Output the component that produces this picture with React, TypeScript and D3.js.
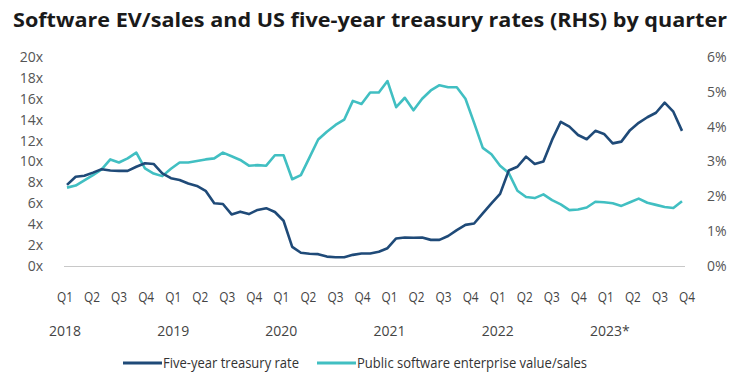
import React from "react";
import * as d3 from "d3";

const title = "Software EV/sales and US five-year treasury rates (RHS) by quarter";
const quarters = ["Q1", "Q2", "Q3", "Q4"];
const years = ["2018", "2019", "2020", "2021", "2022", "2023*"];
const leftTicks = [0, 2, 4, 6, 8, 10, 12, 14, 16, 18, 20];
const rightTicks = [0, 1, 2, 3, 4, 5, 6];

// Monthly values, Jan 2018 - Dec 2023
const evSales = [
  7.5, 7.7, 8.2, 8.7, 9.25, 10.2, 9.9, 10.3, 10.85, 9.35, 8.85, 8.6,
  9.3, 9.9, 9.9, 10.05, 10.2, 10.3, 10.85, 10.5, 10.15, 9.6, 9.65, 9.6,
  10.6, 10.6, 8.3, 8.7, 10.4, 12.1, 12.85, 13.5, 14.0, 15.8, 15.5, 16.6,
  16.6, 17.7, 15.2, 16.1, 14.9, 16.0, 16.8, 17.3, 17.1, 17.1, 16.0, 13.7,
  11.3, 10.7, 9.6, 8.9, 7.2, 6.6, 6.5, 6.85, 6.3, 5.9, 5.35, 5.4,
  5.6, 6.15, 6.1, 6.0, 5.75, 6.1, 6.45, 6.05, 5.85, 5.65, 5.55, 6.2,
];
const treasury = [
  2.33, 2.56, 2.59, 2.68, 2.78, 2.74, 2.73, 2.73, 2.85, 2.95, 2.93, 2.66,
  2.52, 2.47, 2.37, 2.3, 2.16, 1.8, 1.78, 1.48, 1.56, 1.49, 1.61, 1.66,
  1.55, 1.3, 0.55, 0.38, 0.35, 0.34, 0.27, 0.25, 0.25, 0.32, 0.36, 0.36,
  0.41, 0.51, 0.79, 0.82, 0.81, 0.82, 0.75, 0.75, 0.86, 1.03, 1.18, 1.22,
  1.51, 1.8, 2.07, 2.74, 2.85, 3.14, 2.93, 3.0, 3.62, 4.14, 4.0, 3.76,
  3.64, 3.88, 3.79, 3.52, 3.57, 3.9, 4.11, 4.27, 4.4, 4.69, 4.43, 3.88,
];
const seriesNames = ["Five-year treasury rate", "Public software enterprise value/sales"];

const NAVY = "#1f4a78";
const TEAL = "#41bfc2";
const FONT = "'Open Sans', 'Noto Sans', sans-serif";

export default function App() {
  const W = 755, H = 391;
  const x = d3.scaleLinear().domain([0, evSales.length - 1]).range([67, 682]);
  const yL = d3.scaleLinear().domain([0, 20]).range([266, 57]);
  const yR = d3.scaleLinear().domain([0, 6]).range([266, 57]);
  const xq = d3.scaleLinear().domain([0, 23]).range([65, 687]);

  const lineEv = d3.line<number>().x((_, i) => x(i)).y((d) => yL(d));
  const lineRate = d3.line<number>().x((_, i) => x(i)).y((d) => yR(d));

  const qLabels: { t: string; i: number }[] = [];
  for (let i = 0; i < years.length * 4; i++) qLabels.push({ t: quarters[i % 4], i });

  return (
    <svg width={W} height={H} style={{ position: "absolute", left: 0, top: 0, background: "#fff" }} fontFamily={FONT}>
      <rect width={W} height={H} fill="#fff" />
      <text x={13} y={27} fontSize={20} fontWeight={700} fill="#1a1a1a" textLength={714} lengthAdjust="spacingAndGlyphs">
        {title}
      </text>
      {leftTicks.map((t) => (
        <text key={"l" + t} x={43} y={yL(t)} dy="0.35em" textAnchor="end" fontSize={14} fill="#555">
          {t + "x"}
        </text>
      ))}
      {rightTicks.map((t) => (
        <text key={"r" + t} x={707} y={yR(t)} dy="0.35em" textAnchor="start" fontSize={14} fill="#555">
          {t + "%"}
        </text>
      ))}
      <line x1={64} x2={685} y1={266.5} y2={266.5} stroke="#c8c8c8" strokeWidth={1} />
      <path d={lineEv(evSales) || ""} fill="none" stroke={TEAL} strokeWidth={2.6} strokeLinejoin="round" />
      <path d={lineRate(treasury) || ""} fill="none" stroke={NAVY} strokeWidth={2.6} strokeLinejoin="round" />
      {qLabels.map((q) => (
        <text key={"q" + q.i} x={xq(q.i)} y={297} dy="0.35em" textAnchor="middle" fontSize={14} fill="#444" textLength={16} lengthAdjust="spacingAndGlyphs">
          {q.t}
        </text>
      ))}
      {years.map((yv, k) => (
        <text key={"y" + yv} x={xq(k * 4) + (k === 5 ? 4 : 0)} y={331} dy="0.35em" textAnchor="middle" fontSize={14} fill="#444">
          {yv}
        </text>
      ))}
      <line x1={123} x2={162} y1={363} y2={363} stroke={NAVY} strokeWidth={3} />
      <text x={163} y={363} dy="0.35em" fontSize={15} fill="#333" textLength={136} lengthAdjust="spacingAndGlyphs">
        {seriesNames[0]}
      </text>
      <line x1={317} x2={356} y1={363} y2={363} stroke={TEAL} strokeWidth={3} />
      <text x={357} y={363} dy="0.35em" fontSize={15} fill="#333" textLength={230} lengthAdjust="spacingAndGlyphs">
        {seriesNames[1]}
      </text>
    </svg>
  );
}
